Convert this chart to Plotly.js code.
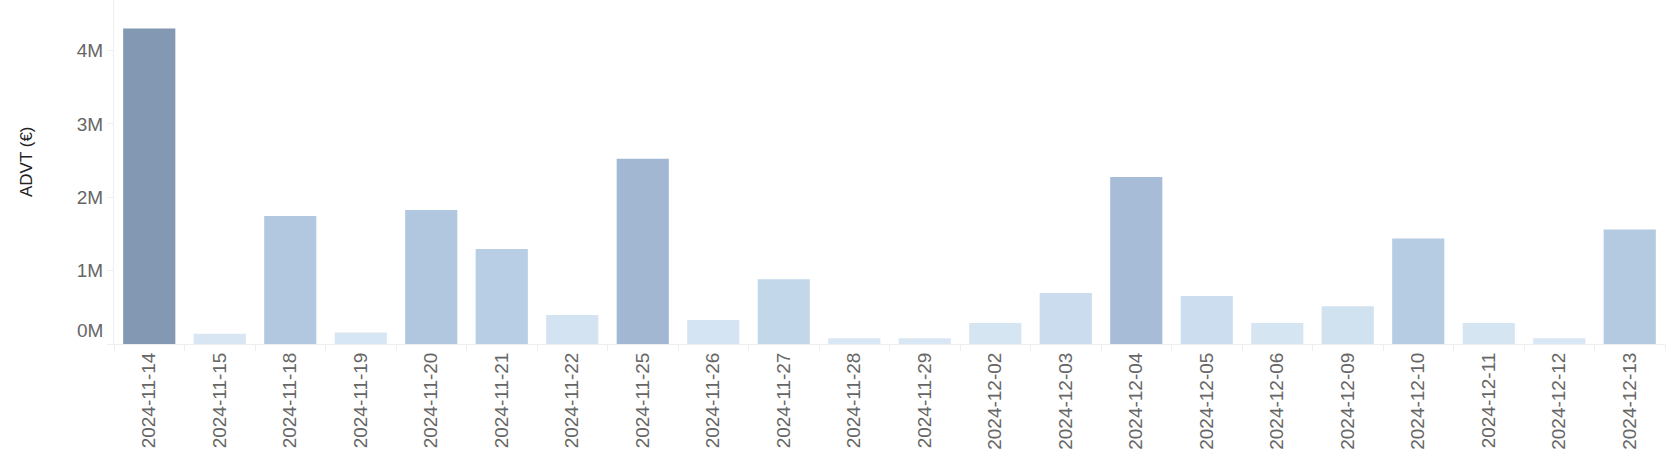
<!DOCTYPE html>
<html>
<head>
<meta charset="utf-8">
<script src="https://cdn.plot.ly/plotly-3.0.1.min.js"></script>
<style>
html,body{margin:0;padding:0;background:#fff;}
#chart{width:1670px;height:456px;}
</style>
</head>
<body>
<div id="chart"></div>
<script>
const dates = ["2024-11-14","2024-11-15","2024-11-18","2024-11-19","2024-11-20","2024-11-21","2024-11-22","2024-11-25","2024-11-26","2024-11-27","2024-11-28","2024-11-29","2024-12-02","2024-12-03","2024-12-04","2024-12-05","2024-12-06","2024-12-09","2024-12-10","2024-12-11","2024-12-12","2024-12-13"];
const advt = [4300000,140000,1745000,158000,1828000,1296000,396000,2524000,327000,882000,78000,78000,286000,696000,2278000,655000,286000,514000,1437000,286000,78000,1560000];
const yTickVals = [0,1000000,2000000,3000000,4000000];
const yTickText = ["","1M","2M","3M","4M"];
const zeroLabel = "0M";
const yTitle = "ADVT (€)";

const colorscale = [
  [0.0,'#dae8f5'],
  [0.1,'#d3e3f1'],
  [0.2,'#c4d8eb'],
  [0.3,'#b8cee4'],
  [0.42,'#b1c7df'],
  [0.58,'#a3b8d3'],
  [1.0,'#8398b2']
];

const trace = {
  type:'bar',
  x: dates,
  y: advt,
  marker:{color: advt, colorscale: colorscale, cmin:0, cmax:4300000, line:{width:0}},
  hoverinfo:'x+y'
};

const font = "'Liberation Sans', Arial, sans-serif";
const layout = {
  width:1670, height:456,
  margin:{l:114, r:5, t:0, b:112, pad:0},
  paper_bgcolor:'#fff', plot_bgcolor:'#fff',
  bargap:0.26,
  showlegend:false,
  font:{family:font, color:'#666', size:19},
  xaxis:{
    type:'category',
    tickangle:-90,
    showgrid:false,
    zeroline:false,
    showline:true, linecolor:'#eeeeee', linewidth:1,
    ticks:'outside', tickson:'boundaries', ticklen:6, tickcolor:'#eeeeee',
    tickfont:{family:font, size:19, color:'#666'},
    fixedrange:true
  },
  yaxis:{
    range:[0,4690000],
    tickvals:yTickVals, ticktext:yTickText,
    showgrid:false, zeroline:false,
    showline:true, linecolor:'#eeeeee', linewidth:1,
    ticks:'outside', ticklen:6, tickcolor:'#eeeeee',
    tickfont:{family:font, size:19, color:'#666'},
    fixedrange:true
  },
  annotations:[{
    xref:'paper', yref:'y', x:0, y:0, text:zeroLabel, showarrow:false,
    xanchor:'right', yanchor:'middle', xshift:-9, yshift:14,
    font:{family:font, size:19, color:'#666'}
  },{
    xref:'paper', yref:'paper', x:0, y:0.529, text:yTitle, showarrow:false,
    textangle:-90, xanchor:'center', yanchor:'middle', xshift:-88,
    font:{family:font, size:17, color:'#222'}
  }]
};

Plotly.newPlot('chart',[trace],layout,{displayModeBar:false,staticPlot:true});
</script>
</body>
</html>
